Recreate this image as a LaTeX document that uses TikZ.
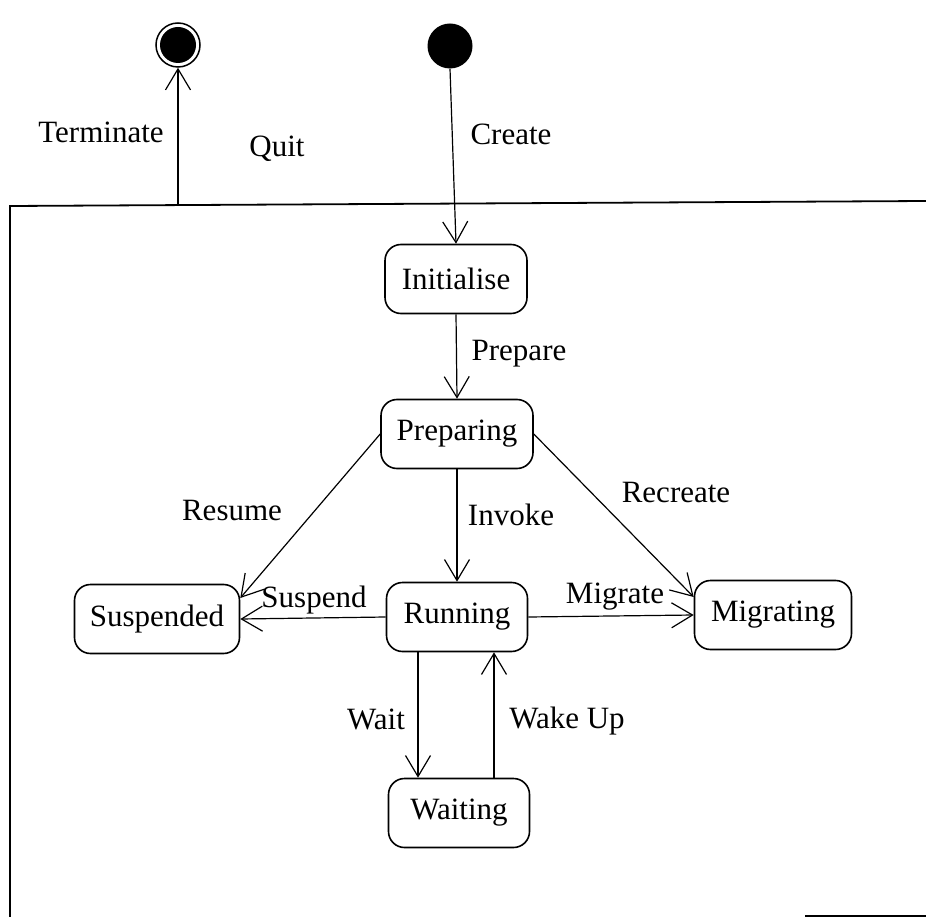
\documentclass[tikz,border=0pt]{standalone}
\usepackage{fontspec}
\setmainfont{Liberation Serif}
\usetikzlibrary{arrows.meta}
\begin{document}
\begin{tikzpicture}[x=1pt,y=-1pt,
  every node/.style={font=\fontsize{31}{36}\selectfont},
  state/.style={draw,line width=1.6pt,rounded corners=16pt,minimum height=69pt,inner sep=0pt},
  trans/.style={line width=1.2pt,-{Straight Barb[length=21pt,width=25pt,line width=1.2pt]}},
  lbl/.style={anchor=base,inner sep=0pt}]
\useasboundingbox (0,0) rectangle (926,917);

% enclosing composite state
\draw[line width=1.8pt] (10,917) -- (10,206) -- (926,201);
\draw[line width=1.8pt] (805,916) -- (926,916);

% pseudo-states
\node[circle,fill=black,minimum size=45pt,inner sep=0pt] (init) at (450,46) {};
\node[circle,draw,line width=1.5pt,minimum size=44pt,inner sep=0pt] (final) at (178,45) {};
\node[circle,fill=black,minimum size=36pt,inner sep=0pt] (finaldot) at (final) {};
\coordinate (termfoot) at (178,205);

% states
\node[state,minimum width=142pt] (initialise) at (456,279) {Initialise};
\node[state,minimum width=152pt] (preparing) at (457,434) {Preparing};
\node[state,minimum width=165pt] (suspended) at (157,619) {Suspended};
\node[state,minimum width=141pt] (running) at (457,617) {Running};
\node[state,minimum width=157pt] (migrating) at (773,615) {Migrating};
\node[state,minimum width=141pt] (waiting) at (459,813) {Waiting};

% transitions
\draw[trans] (termfoot) -- (final.south);
\draw[trans] (init.south) -- (initialise.north);
\draw[trans] (initialise.south) -- (preparing.north);
\draw[trans] (preparing.west) -- ([yshift=21pt]suspended.east);
\draw[trans] (preparing.south) -- (running.north);
\draw[trans] (preparing.east) -- ([yshift=18pt]migrating.west);
\draw[trans] (running.west) -- (suspended.east);
\draw[trans] (running.east) -- (migrating.west);
\draw[trans] ([xshift=-39pt]running.south) -- ([xshift=-39pt]running.south |- waiting.north);
\draw[trans] ([xshift=35pt]waiting.north) -- ([xshift=35pt]waiting.north |- running.south);

% transition labels
\node[lbl] (lterm) at (101,143) {Terminate};
\node[lbl] (lquit) at (277,157) {Quit};
\node[lbl] (lcreate) at (511,145) {Create};
\node[lbl] (lprep) at (519,360) {Prepare};
\node[lbl] (lresume) at (232,520) {Resume};
\node[lbl] (linvoke) at (511,525) {Invoke};
\node[lbl] (lrecreate) at (676,502) {Recreate};
\node[lbl] (lsuspend) at (314,607) {Suspend};
\node[lbl] (lmigrate) at (615,603) {Migrate};
\node[lbl] (lwait) at (376,729) {Wait};
\node[lbl] (lwake) at (567,728) {Wake Up};
\end{tikzpicture}
\end{document}
